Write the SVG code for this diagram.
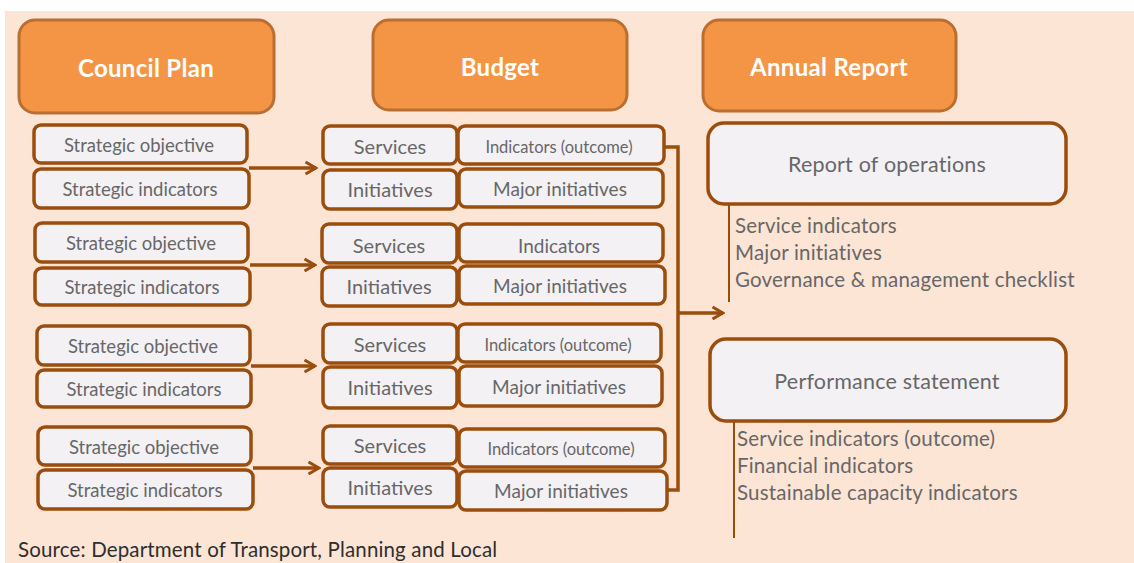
<svg xmlns="http://www.w3.org/2000/svg" width="1134" height="563" viewBox="0 0 1134 563">
<defs>
<style>
.hdr{fill:#f49546;stroke:#b96f31;stroke-width:3}
.hdrt{font-family:Lato,"Liberation Sans",sans-serif;font-weight:bold;font-size:24px;fill:#ffffff;text-anchor:middle;dominant-baseline:central;letter-spacing:0.3px}
.bx{fill:#f4f1f5;stroke:#9a4d0d;stroke-width:3.5}
.t{font-family:Lato,"Liberation Sans",sans-serif;font-size:18.5px;fill:#676767;text-anchor:middle;dominant-baseline:central}
.tm{font-family:Lato,"Liberation Sans",sans-serif;font-size:19px;fill:#676767;text-anchor:middle;dominant-baseline:central}
.tb{font-family:Lato,"Liberation Sans",sans-serif;font-size:20px;fill:#676767;text-anchor:middle;dominant-baseline:central}
.ts{font-family:Lato,"Liberation Sans",sans-serif;font-size:16.5px;fill:#676767;text-anchor:middle;dominant-baseline:central}
.tl{font-family:Lato,"Liberation Sans",sans-serif;font-size:20.5px;fill:#676767;dominant-baseline:central;letter-spacing:0.2px}
.big{font-family:Lato,"Liberation Sans",sans-serif;font-size:21.5px;fill:#676767;text-anchor:middle;dominant-baseline:central;letter-spacing:0.2px}
.ln{fill:none;stroke:#9a4d0d;stroke-width:3.5}
.thin{fill:none;stroke:#9a4d0d;stroke-width:2}
</style>
<marker id="ah" viewBox="0 0 14 14" refX="12" refY="7" markerWidth="14" markerHeight="14" markerUnits="userSpaceOnUse" orient="auto">
<path d="M1.5,1 L12,7 L1.5,13" fill="none" stroke="#9a4d0d" stroke-width="3"/>
</marker>
</defs>
<rect x="5" y="11" width="1129" height="552" fill="#fde5d6"/>

<g id="council-plan"><rect class="hdr" x="19" y="20" width="255" height="93" rx="16"/><text class="hdrt" x="146" y="67">Council Plan</text></g>
<g id="budget"><rect class="hdr" x="373" y="20" width="254" height="90" rx="16"/><text class="hdrt" x="500" y="66">Budget</text></g>
<g id="annual-report"><rect class="hdr" x="703" y="20" width="253" height="91" rx="16"/><text class="hdrt" x="829" y="66">Annual Report</text></g>

<g id="cp1"><rect class="bx" x="34" y="125" width="213" height="38" rx="7"/><text class="t" x="139" y="145">Strategic objective</text>
<rect class="bx" x="34" y="169" width="215" height="39" rx="7"/><text class="t" x="140" y="189">Strategic indicators</text></g>
<g id="cp2"><rect class="bx" x="35" y="223" width="213" height="39" rx="7"/><text class="t" x="141" y="243">Strategic objective</text>
<rect class="bx" x="35" y="268" width="215" height="37" rx="7"/><text class="t" x="142" y="287">Strategic indicators</text></g>
<g id="cp3"><rect class="bx" x="37" y="326" width="213" height="39" rx="7"/><text class="t" x="143" y="346">Strategic objective</text>
<rect class="bx" x="37" y="370" width="214" height="37" rx="7"/><text class="t" x="144" y="389">Strategic indicators</text></g>
<g id="cp4"><rect class="bx" x="38" y="427" width="213" height="38" rx="7"/><text class="t" x="144" y="447">Strategic objective</text>
<rect class="bx" x="38" y="470" width="215" height="39" rx="7"/><text class="t" x="145" y="490">Strategic indicators</text></g>

<g id="b1"><rect class="bx" x="323" y="126" width="134" height="38" rx="7"/><text class="tb" x="390" y="146">Services</text>
<rect class="bx" x="458" y="126" width="206" height="38" rx="7"/><text class="ts" x="559" y="147">Indicators (outcome)</text>
<rect class="bx" x="323" y="170" width="134" height="39" rx="7"/><text class="tb" x="390" y="189">Initiatives</text>
<rect class="bx" x="459" y="169" width="204" height="38" rx="7"/><text class="tm" x="560" y="188">Major initiatives</text></g>
<g id="b2"><rect class="bx" x="322" y="224" width="135" height="39" rx="7"/><text class="tb" x="389" y="245">Services</text>
<rect class="bx" x="459" y="224" width="204" height="38" rx="7"/><text class="tm" x="559" y="245">Indicators</text>
<rect class="bx" x="322" y="267" width="135" height="39" rx="7"/><text class="tb" x="389" y="286">Initiatives</text>
<rect class="bx" x="459" y="266" width="206" height="38" rx="7"/><text class="tm" x="560" y="285">Major initiatives</text></g>
<g id="b3"><rect class="bx" x="323" y="324" width="134" height="39" rx="7"/><text class="tb" x="390" y="344">Services</text>
<rect class="bx" x="458" y="324" width="203" height="38" rx="7"/><text class="ts" x="558" y="345">Indicators (outcome)</text>
<rect class="bx" x="323" y="367" width="134" height="41" rx="7"/><text class="tb" x="390" y="387">Initiatives</text>
<rect class="bx" x="459" y="366" width="203" height="40" rx="7"/><text class="tm" x="559" y="386">Major initiatives</text></g>
<g id="b4"><rect class="bx" x="323" y="426" width="134" height="38" rx="7"/><text class="tb" x="390" y="445">Services</text>
<rect class="bx" x="459" y="429" width="206" height="38" rx="7"/><text class="ts" x="561" y="449">Indicators (outcome)</text>
<rect class="bx" x="323" y="468" width="134" height="39" rx="7"/><text class="tb" x="390" y="487">Initiatives</text>
<rect class="bx" x="459" y="471" width="208" height="39" rx="7"/><text class="tm" x="561" y="490">Major initiatives</text></g>

<g id="report-ops"><rect class="bx" x="708" y="123" width="358" height="81" rx="16"/><text class="big" x="887" y="164">Report of operations</text>
<text class="tl" x="735" y="225">Service indicators</text>
<text class="tl" x="735" y="252">Major initiatives</text>
<text class="tl" x="735" y="279">Governance &amp; management checklist</text></g>
<g id="perf-statement"><rect class="bx" x="710" y="339" width="356" height="82" rx="16"/><text class="big" x="887" y="381">Performance statement</text>
<text class="tl" x="737" y="438">Service indicators (outcome)</text>
<text class="tl" x="737" y="465">Financial indicators</text>
<text class="tl" x="737" y="492">Sustainable capacity indicators</text></g>

<g id="connectors">
<line class="ln" x1="249" y1="168" x2="316" y2="168" marker-end="url(#ah)"/>
<line class="ln" x1="250" y1="265" x2="315" y2="265" marker-end="url(#ah)"/>
<line class="ln" x1="251" y1="366" x2="315" y2="366" marker-end="url(#ah)"/>
<line class="ln" x1="253" y1="468" x2="319" y2="468" marker-end="url(#ah)"/>
<polyline class="ln" points="664,147 678,147 678,490 667,490"/>
<line class="ln" x1="678" y1="313" x2="723" y2="313" marker-end="url(#ah)"/>
<line class="thin" x1="729" y1="204" x2="729" y2="302"/>
<line class="thin" x1="734" y1="421" x2="734" y2="538"/>
</g>

<text x="18" y="549" style="font-family:Lato,'Liberation Sans',sans-serif;font-size:20.5px;fill:#2e2e2e;dominant-baseline:central;letter-spacing:0.15px">Source: Department of Transport, Planning and Local</text>
</svg>
